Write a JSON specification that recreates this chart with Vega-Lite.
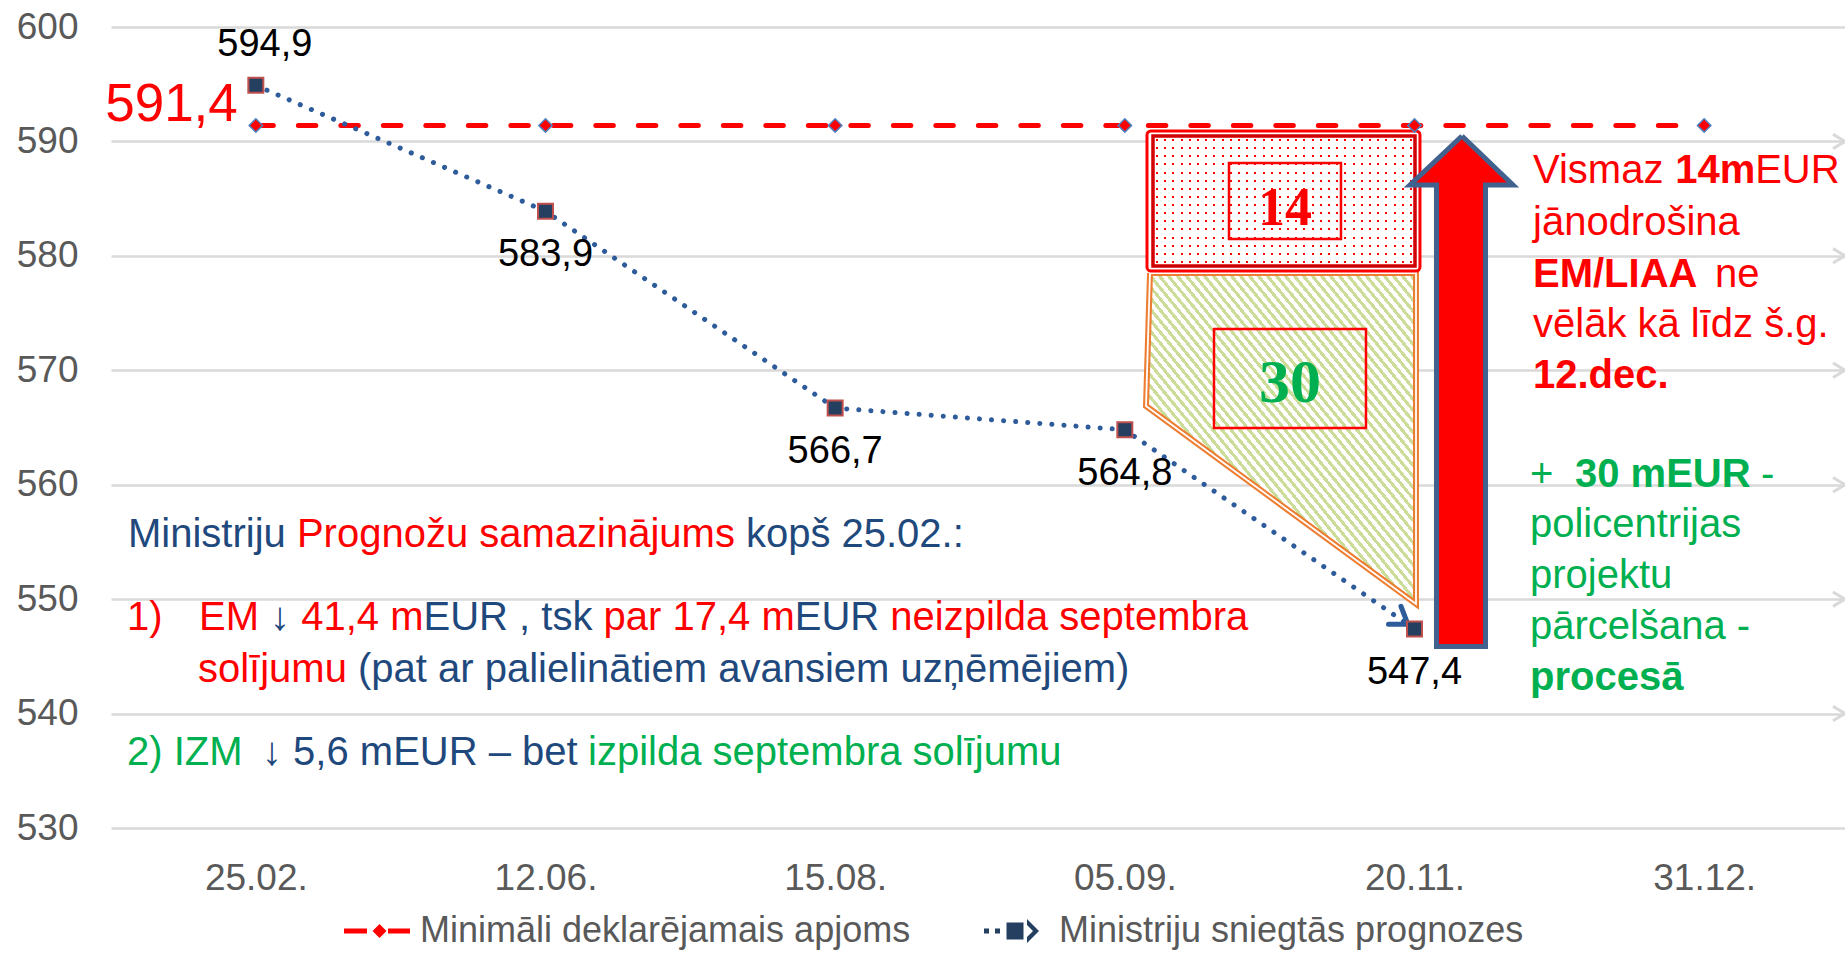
{
  "$schema": "https://vega.github.io/schema/vega-lite/v6.json",
  "width": 1738,
  "height": 801,
  "autosize": {"type": "none"},
  "padding": {"left": 111, "top": 27, "right": 0, "bottom": 125},
  "background": "white",
  "config": {
    "view": {"stroke": null},
    "locale": {"number": {"decimal": ",", "thousands": " ", "grouping": [3], "currency": ["", " €"]}}
  },
  "datasets": {
    "series": [
      {"d": "25.02.", "i": 0, "s": "Minimāli deklarējamais apjoms", "v": 591.4},
      {"d": "12.06.", "i": 1, "s": "Minimāli deklarējamais apjoms", "v": 591.4},
      {"d": "15.08.", "i": 2, "s": "Minimāli deklarējamais apjoms", "v": 591.4},
      {"d": "05.09.", "i": 3, "s": "Minimāli deklarējamais apjoms", "v": 591.4},
      {"d": "20.11.", "i": 4, "s": "Minimāli deklarējamais apjoms", "v": 591.4},
      {"d": "31.12.", "i": 5, "s": "Minimāli deklarējamais apjoms", "v": 591.4},
      {"d": "25.02.", "i": 0, "s": "Ministriju sniegtās prognozes", "v": 594.9},
      {"d": "12.06.", "i": 1, "s": "Ministriju sniegtās prognozes", "v": 583.9},
      {"d": "15.08.", "i": 2, "s": "Ministriju sniegtās prognozes", "v": 566.7},
      {"d": "05.09.", "i": 3, "s": "Ministriju sniegtās prognozes", "v": 564.8},
      {"d": "20.11.", "i": 4, "s": "Ministriju sniegtās prognozes", "v": 547.4}
    ],
    "pentagon": [
      {"o": 1, "x": 3.0869, "y": 578.5},
      {"o": 2, "x": 4.0052, "y": 578.5},
      {"o": 3, "x": 4.0052, "y": 549.58},
      {"o": 4, "x": 3.0731, "y": 566.88},
      {"o": 5, "x": 3.0869, "y": 578.5}
    ],
    "arrow": [
      {"o": 1, "x": 4.1639, "y": 590.47},
      {"o": 2, "x": 4.34, "y": 586.19},
      {"o": 3, "x": 4.2451, "y": 586.19},
      {"o": 4, "x": 4.2451, "y": 545.86},
      {"o": 5, "x": 4.0759, "y": 545.86},
      {"o": 6, "x": 4.0759, "y": 586.19},
      {"o": 7, "x": 3.9844, "y": 586.19},
      {"o": 8, "x": 4.1639, "y": 590.47}
    ],
    "grid": [{"g": 540}, {"g": 550}, {"g": 560}, {"g": 570}, {"g": 580}, {"g": 590}]
  },
  "layer": [
    {
      "data": {"name": "pentagon"},
      "layer": [
        {"mark": {"type": "line", "stroke": "#ED7D31", "strokeWidth": 6, "strokeJoin": "miter",
                  "fill": {"gradient": "linear", "x1": 0, "y1": 1, "x2": 1, "y2": 0, "stops": [
{"offset":0,"color":"#cd9"},{"offset":0.0075,"color":"#cd9"},{"offset":0.0075,"color":"#fff"},{"offset":0.0167,"color":"#fff"},
{"offset":0.0167,"color":"#cd9"},{"offset":0.0242,"color":"#cd9"},{"offset":0.0242,"color":"#fff"},{"offset":0.0333,"color":"#fff"},
{"offset":0.0333,"color":"#cd9"},{"offset":0.0408,"color":"#cd9"},{"offset":0.0408,"color":"#fff"},{"offset":0.05,"color":"#fff"},
{"offset":0.05,"color":"#cd9"},{"offset":0.0575,"color":"#cd9"},{"offset":0.0575,"color":"#fff"},{"offset":0.0667,"color":"#fff"},
{"offset":0.0667,"color":"#cd9"},{"offset":0.0742,"color":"#cd9"},{"offset":0.0742,"color":"#fff"},{"offset":0.0833,"color":"#fff"},
{"offset":0.0833,"color":"#cd9"},{"offset":0.0908,"color":"#cd9"},{"offset":0.0908,"color":"#fff"},{"offset":0.1,"color":"#fff"},
{"offset":0.1,"color":"#cd9"},{"offset":0.1075,"color":"#cd9"},{"offset":0.1075,"color":"#fff"},{"offset":0.1167,"color":"#fff"},
{"offset":0.1167,"color":"#cd9"},{"offset":0.1242,"color":"#cd9"},{"offset":0.1242,"color":"#fff"},{"offset":0.1333,"color":"#fff"},
{"offset":0.1333,"color":"#cd9"},{"offset":0.1408,"color":"#cd9"},{"offset":0.1408,"color":"#fff"},{"offset":0.15,"color":"#fff"},
{"offset":0.15,"color":"#cd9"},{"offset":0.1575,"color":"#cd9"},{"offset":0.1575,"color":"#fff"},{"offset":0.1667,"color":"#fff"},
{"offset":0.1667,"color":"#cd9"},{"offset":0.1742,"color":"#cd9"},{"offset":0.1742,"color":"#fff"},{"offset":0.1833,"color":"#fff"},
{"offset":0.1833,"color":"#cd9"},{"offset":0.1908,"color":"#cd9"},{"offset":0.1908,"color":"#fff"},{"offset":0.2,"color":"#fff"},
{"offset":0.2,"color":"#cd9"},{"offset":0.2075,"color":"#cd9"},{"offset":0.2075,"color":"#fff"},{"offset":0.2167,"color":"#fff"},
{"offset":0.2167,"color":"#cd9"},{"offset":0.2242,"color":"#cd9"},{"offset":0.2242,"color":"#fff"},{"offset":0.2333,"color":"#fff"},
{"offset":0.2333,"color":"#cd9"},{"offset":0.2408,"color":"#cd9"},{"offset":0.2408,"color":"#fff"},{"offset":0.25,"color":"#fff"},
{"offset":0.25,"color":"#cd9"},{"offset":0.2575,"color":"#cd9"},{"offset":0.2575,"color":"#fff"},{"offset":0.2667,"color":"#fff"},
{"offset":0.2667,"color":"#cd9"},{"offset":0.2742,"color":"#cd9"},{"offset":0.2742,"color":"#fff"},{"offset":0.2833,"color":"#fff"},
{"offset":0.2833,"color":"#cd9"},{"offset":0.2908,"color":"#cd9"},{"offset":0.2908,"color":"#fff"},{"offset":0.3,"color":"#fff"},
{"offset":0.3,"color":"#cd9"},{"offset":0.3075,"color":"#cd9"},{"offset":0.3075,"color":"#fff"},{"offset":0.3167,"color":"#fff"},
{"offset":0.3167,"color":"#cd9"},{"offset":0.3242,"color":"#cd9"},{"offset":0.3242,"color":"#fff"},{"offset":0.3333,"color":"#fff"},
{"offset":0.3333,"color":"#cd9"},{"offset":0.3408,"color":"#cd9"},{"offset":0.3408,"color":"#fff"},{"offset":0.35,"color":"#fff"},
{"offset":0.35,"color":"#cd9"},{"offset":0.3575,"color":"#cd9"},{"offset":0.3575,"color":"#fff"},{"offset":0.3667,"color":"#fff"},
{"offset":0.3667,"color":"#cd9"},{"offset":0.3742,"color":"#cd9"},{"offset":0.3742,"color":"#fff"},{"offset":0.3833,"color":"#fff"},
{"offset":0.3833,"color":"#cd9"},{"offset":0.3908,"color":"#cd9"},{"offset":0.3908,"color":"#fff"},{"offset":0.4,"color":"#fff"},
{"offset":0.4,"color":"#cd9"},{"offset":0.4075,"color":"#cd9"},{"offset":0.4075,"color":"#fff"},{"offset":0.4167,"color":"#fff"},
{"offset":0.4167,"color":"#cd9"},{"offset":0.4242,"color":"#cd9"},{"offset":0.4242,"color":"#fff"},{"offset":0.4333,"color":"#fff"},
{"offset":0.4333,"color":"#cd9"},{"offset":0.4408,"color":"#cd9"},{"offset":0.4408,"color":"#fff"},{"offset":0.45,"color":"#fff"},
{"offset":0.45,"color":"#cd9"},{"offset":0.4575,"color":"#cd9"},{"offset":0.4575,"color":"#fff"},{"offset":0.4667,"color":"#fff"},
{"offset":0.4667,"color":"#cd9"},{"offset":0.4742,"color":"#cd9"},{"offset":0.4742,"color":"#fff"},{"offset":0.4833,"color":"#fff"},
{"offset":0.4833,"color":"#cd9"},{"offset":0.4908,"color":"#cd9"},{"offset":0.4908,"color":"#fff"},{"offset":0.5,"color":"#fff"},
{"offset":0.5,"color":"#cd9"},{"offset":0.5075,"color":"#cd9"},{"offset":0.5075,"color":"#fff"},{"offset":0.5167,"color":"#fff"},
{"offset":0.5167,"color":"#cd9"},{"offset":0.5242,"color":"#cd9"},{"offset":0.5242,"color":"#fff"},{"offset":0.5333,"color":"#fff"},
{"offset":0.5333,"color":"#cd9"},{"offset":0.5408,"color":"#cd9"},{"offset":0.5408,"color":"#fff"},{"offset":0.55,"color":"#fff"},
{"offset":0.55,"color":"#cd9"},{"offset":0.5575,"color":"#cd9"},{"offset":0.5575,"color":"#fff"},{"offset":0.5667,"color":"#fff"},
{"offset":0.5667,"color":"#cd9"},{"offset":0.5742,"color":"#cd9"},{"offset":0.5742,"color":"#fff"},{"offset":0.5833,"color":"#fff"},
{"offset":0.5833,"color":"#cd9"},{"offset":0.5908,"color":"#cd9"},{"offset":0.5908,"color":"#fff"},{"offset":0.6,"color":"#fff"},
{"offset":0.6,"color":"#cd9"},{"offset":0.6075,"color":"#cd9"},{"offset":0.6075,"color":"#fff"},{"offset":0.6167,"color":"#fff"},
{"offset":0.6167,"color":"#cd9"},{"offset":0.6242,"color":"#cd9"},{"offset":0.6242,"color":"#fff"},{"offset":0.6333,"color":"#fff"},
{"offset":0.6333,"color":"#cd9"},{"offset":0.6408,"color":"#cd9"},{"offset":0.6408,"color":"#fff"},{"offset":0.65,"color":"#fff"},
{"offset":0.65,"color":"#cd9"},{"offset":0.6575,"color":"#cd9"},{"offset":0.6575,"color":"#fff"},{"offset":0.6667,"color":"#fff"},
{"offset":0.6667,"color":"#cd9"},{"offset":0.6742,"color":"#cd9"},{"offset":0.6742,"color":"#fff"},{"offset":0.6833,"color":"#fff"},
{"offset":0.6833,"color":"#cd9"},{"offset":0.6908,"color":"#cd9"},{"offset":0.6908,"color":"#fff"},{"offset":0.7,"color":"#fff"},
{"offset":0.7,"color":"#cd9"},{"offset":0.7075,"color":"#cd9"},{"offset":0.7075,"color":"#fff"},{"offset":0.7167,"color":"#fff"},
{"offset":0.7167,"color":"#cd9"},{"offset":0.7242,"color":"#cd9"},{"offset":0.7242,"color":"#fff"},{"offset":0.7333,"color":"#fff"},
{"offset":0.7333,"color":"#cd9"},{"offset":0.7408,"color":"#cd9"},{"offset":0.7408,"color":"#fff"},{"offset":0.75,"color":"#fff"},
{"offset":0.75,"color":"#cd9"},{"offset":0.7575,"color":"#cd9"},{"offset":0.7575,"color":"#fff"},{"offset":0.7667,"color":"#fff"},
{"offset":0.7667,"color":"#cd9"},{"offset":0.7742,"color":"#cd9"},{"offset":0.7742,"color":"#fff"},{"offset":0.7833,"color":"#fff"},
{"offset":0.7833,"color":"#cd9"},{"offset":0.7908,"color":"#cd9"},{"offset":0.7908,"color":"#fff"},{"offset":0.8,"color":"#fff"},
{"offset":0.8,"color":"#cd9"},{"offset":0.8075,"color":"#cd9"},{"offset":0.8075,"color":"#fff"},{"offset":0.8167,"color":"#fff"},
{"offset":0.8167,"color":"#cd9"},{"offset":0.8242,"color":"#cd9"},{"offset":0.8242,"color":"#fff"},{"offset":0.8333,"color":"#fff"},
{"offset":0.8333,"color":"#cd9"},{"offset":0.8408,"color":"#cd9"},{"offset":0.8408,"color":"#fff"},{"offset":0.85,"color":"#fff"},
{"offset":0.85,"color":"#cd9"},{"offset":0.8575,"color":"#cd9"},{"offset":0.8575,"color":"#fff"},{"offset":0.8667,"color":"#fff"},
{"offset":0.8667,"color":"#cd9"},{"offset":0.8742,"color":"#cd9"},{"offset":0.8742,"color":"#fff"},{"offset":0.8833,"color":"#fff"},
{"offset":0.8833,"color":"#cd9"},{"offset":0.8908,"color":"#cd9"},{"offset":0.8908,"color":"#fff"},{"offset":0.9,"color":"#fff"},
{"offset":0.9,"color":"#cd9"},{"offset":0.9075,"color":"#cd9"},{"offset":0.9075,"color":"#fff"},{"offset":0.9167,"color":"#fff"},
{"offset":0.9167,"color":"#cd9"},{"offset":0.9242,"color":"#cd9"},{"offset":0.9242,"color":"#fff"},{"offset":0.9333,"color":"#fff"},
{"offset":0.9333,"color":"#cd9"},{"offset":0.9408,"color":"#cd9"},{"offset":0.9408,"color":"#fff"},{"offset":0.95,"color":"#fff"},
{"offset":0.95,"color":"#cd9"},{"offset":0.9575,"color":"#cd9"},{"offset":0.9575,"color":"#fff"},{"offset":0.9667,"color":"#fff"},
{"offset":0.9667,"color":"#cd9"},{"offset":0.9742,"color":"#cd9"},{"offset":0.9742,"color":"#fff"},{"offset":0.9833,"color":"#fff"},
{"offset":0.9833,"color":"#cd9"},{"offset":0.9908,"color":"#cd9"},{"offset":0.9908,"color":"#fff"},{"offset":1,"color":"#fff"}
                  ]}},
         "encoding": {"x": {"field": "x", "type": "quantitative"}, "y": {"field": "y", "type": "quantitative"}, "order": {"field": "o"}}},
        {"mark": {"type": "line", "stroke": "white", "strokeWidth": 1.8, "strokeJoin": "miter"},
         "encoding": {"x": {"field": "x", "type": "quantitative"}, "y": {"field": "y", "type": "quantitative"}, "order": {"field": "o"}}}
      ]
    },
    {
      "data": {"values": [{}]},
      "layer": [
        {"mark": {"type": "rect", "fill": "#FFFFFF", "stroke": "#FF0000", "strokeWidth": 3, "cornerRadius": 4},
         "encoding": {"x": {"datum": 3.0765, "type": "quantitative"}, "x2": {"datum": 4.0189}, "y": {"datum": 590.911, "type": "quantitative"}, "y2": {"datum": 578.677}}},
        {"mark": {"type": "rect", "strokeWidth": 0,
                  "fill": {"gradient": "linear", "x1": 0, "y1": 0, "x2": 1, "y2": 0, "stops": [
{"offset":0,"color":"#fff"},
{"offset":0.0117,"color":"#fff"},{"offset":0.0117,"color":"#f00"},{"offset":0.0195,"color":"#f00"},{"offset":0.0195,"color":"#fff"},
{"offset":0.0430,"color":"#fff"},{"offset":0.0430,"color":"#f00"},{"offset":0.0508,"color":"#f00"},{"offset":0.0508,"color":"#fff"},
{"offset":0.0742,"color":"#fff"},{"offset":0.0742,"color":"#f00"},{"offset":0.0820,"color":"#f00"},{"offset":0.0820,"color":"#fff"},
{"offset":0.1055,"color":"#fff"},{"offset":0.1055,"color":"#f00"},{"offset":0.1133,"color":"#f00"},{"offset":0.1133,"color":"#fff"},
{"offset":0.1367,"color":"#fff"},{"offset":0.1367,"color":"#f00"},{"offset":0.1445,"color":"#f00"},{"offset":0.1445,"color":"#fff"},
{"offset":0.1680,"color":"#fff"},{"offset":0.1680,"color":"#f00"},{"offset":0.1758,"color":"#f00"},{"offset":0.1758,"color":"#fff"},
{"offset":0.1992,"color":"#fff"},{"offset":0.1992,"color":"#f00"},{"offset":0.2070,"color":"#f00"},{"offset":0.2070,"color":"#fff"},
{"offset":0.2305,"color":"#fff"},{"offset":0.2305,"color":"#f00"},{"offset":0.2383,"color":"#f00"},{"offset":0.2383,"color":"#fff"},
{"offset":0.2617,"color":"#fff"},{"offset":0.2617,"color":"#f00"},{"offset":0.2695,"color":"#f00"},{"offset":0.2695,"color":"#fff"},
{"offset":0.2930,"color":"#fff"},{"offset":0.2930,"color":"#f00"},{"offset":0.3008,"color":"#f00"},{"offset":0.3008,"color":"#fff"},
{"offset":0.3242,"color":"#fff"},{"offset":0.3242,"color":"#f00"},{"offset":0.3320,"color":"#f00"},{"offset":0.3320,"color":"#fff"},
{"offset":0.3555,"color":"#fff"},{"offset":0.3555,"color":"#f00"},{"offset":0.3633,"color":"#f00"},{"offset":0.3633,"color":"#fff"},
{"offset":0.3867,"color":"#fff"},{"offset":0.3867,"color":"#f00"},{"offset":0.3945,"color":"#f00"},{"offset":0.3945,"color":"#fff"},
{"offset":0.4180,"color":"#fff"},{"offset":0.4180,"color":"#f00"},{"offset":0.4258,"color":"#f00"},{"offset":0.4258,"color":"#fff"},
{"offset":0.4492,"color":"#fff"},{"offset":0.4492,"color":"#f00"},{"offset":0.4570,"color":"#f00"},{"offset":0.4570,"color":"#fff"},
{"offset":0.4805,"color":"#fff"},{"offset":0.4805,"color":"#f00"},{"offset":0.4883,"color":"#f00"},{"offset":0.4883,"color":"#fff"},
{"offset":0.5117,"color":"#fff"},{"offset":0.5117,"color":"#f00"},{"offset":0.5195,"color":"#f00"},{"offset":0.5195,"color":"#fff"},
{"offset":0.5430,"color":"#fff"},{"offset":0.5430,"color":"#f00"},{"offset":0.5508,"color":"#f00"},{"offset":0.5508,"color":"#fff"},
{"offset":0.5742,"color":"#fff"},{"offset":0.5742,"color":"#f00"},{"offset":0.5820,"color":"#f00"},{"offset":0.5820,"color":"#fff"},
{"offset":0.6055,"color":"#fff"},{"offset":0.6055,"color":"#f00"},{"offset":0.6133,"color":"#f00"},{"offset":0.6133,"color":"#fff"},
{"offset":0.6367,"color":"#fff"},{"offset":0.6367,"color":"#f00"},{"offset":0.6445,"color":"#f00"},{"offset":0.6445,"color":"#fff"},
{"offset":0.6680,"color":"#fff"},{"offset":0.6680,"color":"#f00"},{"offset":0.6758,"color":"#f00"},{"offset":0.6758,"color":"#fff"},
{"offset":0.6992,"color":"#fff"},{"offset":0.6992,"color":"#f00"},{"offset":0.7070,"color":"#f00"},{"offset":0.7070,"color":"#fff"},
{"offset":0.7305,"color":"#fff"},{"offset":0.7305,"color":"#f00"},{"offset":0.7383,"color":"#f00"},{"offset":0.7383,"color":"#fff"},
{"offset":0.7617,"color":"#fff"},{"offset":0.7617,"color":"#f00"},{"offset":0.7695,"color":"#f00"},{"offset":0.7695,"color":"#fff"},
{"offset":0.7930,"color":"#fff"},{"offset":0.7930,"color":"#f00"},{"offset":0.8008,"color":"#f00"},{"offset":0.8008,"color":"#fff"},
{"offset":0.8242,"color":"#fff"},{"offset":0.8242,"color":"#f00"},{"offset":0.8320,"color":"#f00"},{"offset":0.8320,"color":"#fff"},
{"offset":0.8555,"color":"#fff"},{"offset":0.8555,"color":"#f00"},{"offset":0.8633,"color":"#f00"},{"offset":0.8633,"color":"#fff"},
{"offset":0.8867,"color":"#fff"},{"offset":0.8867,"color":"#f00"},{"offset":0.8945,"color":"#f00"},{"offset":0.8945,"color":"#fff"},
{"offset":0.9180,"color":"#fff"},{"offset":0.9180,"color":"#f00"},{"offset":0.9258,"color":"#f00"},{"offset":0.9258,"color":"#fff"},
{"offset":0.9492,"color":"#fff"},{"offset":0.9492,"color":"#f00"},{"offset":0.9570,"color":"#f00"},{"offset":0.9570,"color":"#fff"},
{"offset":0.9805,"color":"#fff"},{"offset":0.9805,"color":"#f00"},{"offset":0.9883,"color":"#f00"},{"offset":0.9883,"color":"#fff"},
{"offset":1,"color":"#fff"}
                  ]}},
         "encoding": {"x": {"datum": 3.0972, "type": "quantitative"}, "x2": {"datum": 4.0017}, "y": {"datum": 590.474, "type": "quantitative"}, "y2": {"datum": 579.114}}},
        {"mark": {"type": "rect", "strokeWidth": 0,
                  "fill": {"gradient": "linear", "x1": 0, "y1": 0, "x2": 0, "y2": 1, "stops": [
{"offset":0,"color":"#fff"},
{"offset":0.0234,"color":"#fff"},{"offset":0.0234,"color":"rgba(255,255,255,0)"},{"offset":0.0390,"color":"rgba(255,255,255,0)"},{"offset":0.0390,"color":"#fff"},
{"offset":0.0859,"color":"#fff"},{"offset":0.0859,"color":"rgba(255,255,255,0)"},{"offset":0.1015,"color":"rgba(255,255,255,0)"},{"offset":0.1015,"color":"#fff"},
{"offset":0.1484,"color":"#fff"},{"offset":0.1484,"color":"rgba(255,255,255,0)"},{"offset":0.1640,"color":"rgba(255,255,255,0)"},{"offset":0.1640,"color":"#fff"},
{"offset":0.2109,"color":"#fff"},{"offset":0.2109,"color":"rgba(255,255,255,0)"},{"offset":0.2265,"color":"rgba(255,255,255,0)"},{"offset":0.2265,"color":"#fff"},
{"offset":0.2734,"color":"#fff"},{"offset":0.2734,"color":"rgba(255,255,255,0)"},{"offset":0.2890,"color":"rgba(255,255,255,0)"},{"offset":0.2890,"color":"#fff"},
{"offset":0.3359,"color":"#fff"},{"offset":0.3359,"color":"rgba(255,255,255,0)"},{"offset":0.3515,"color":"rgba(255,255,255,0)"},{"offset":0.3515,"color":"#fff"},
{"offset":0.3984,"color":"#fff"},{"offset":0.3984,"color":"rgba(255,255,255,0)"},{"offset":0.4140,"color":"rgba(255,255,255,0)"},{"offset":0.4140,"color":"#fff"},
{"offset":0.4609,"color":"#fff"},{"offset":0.4609,"color":"rgba(255,255,255,0)"},{"offset":0.4765,"color":"rgba(255,255,255,0)"},{"offset":0.4765,"color":"#fff"},
{"offset":0.5234,"color":"#fff"},{"offset":0.5234,"color":"rgba(255,255,255,0)"},{"offset":0.5390,"color":"rgba(255,255,255,0)"},{"offset":0.5390,"color":"#fff"},
{"offset":0.5859,"color":"#fff"},{"offset":0.5859,"color":"rgba(255,255,255,0)"},{"offset":0.6015,"color":"rgba(255,255,255,0)"},{"offset":0.6015,"color":"#fff"},
{"offset":0.6484,"color":"#fff"},{"offset":0.6484,"color":"rgba(255,255,255,0)"},{"offset":0.6640,"color":"rgba(255,255,255,0)"},{"offset":0.6640,"color":"#fff"},
{"offset":0.7109,"color":"#fff"},{"offset":0.7109,"color":"rgba(255,255,255,0)"},{"offset":0.7265,"color":"rgba(255,255,255,0)"},{"offset":0.7265,"color":"#fff"},
{"offset":0.7734,"color":"#fff"},{"offset":0.7734,"color":"rgba(255,255,255,0)"},{"offset":0.7890,"color":"rgba(255,255,255,0)"},{"offset":0.7890,"color":"#fff"},
{"offset":0.8359,"color":"#fff"},{"offset":0.8359,"color":"rgba(255,255,255,0)"},{"offset":0.8515,"color":"rgba(255,255,255,0)"},{"offset":0.8515,"color":"#fff"},
{"offset":0.8984,"color":"#fff"},{"offset":0.8984,"color":"rgba(255,255,255,0)"},{"offset":0.9140,"color":"rgba(255,255,255,0)"},{"offset":0.9140,"color":"#fff"},
{"offset":0.9609,"color":"#fff"},{"offset":0.9609,"color":"rgba(255,255,255,0)"},{"offset":0.9765,"color":"rgba(255,255,255,0)"},{"offset":0.9765,"color":"#fff"},
{"offset":1,"color":"#fff"}
                  ]}},
         "encoding": {"x": {"datum": 3.0972, "type": "quantitative"}, "x2": {"datum": 4.0017}, "y": {"datum": 590.474, "type": "quantitative"}, "y2": {"datum": 579.114}}},
        {"mark": {"type": "rect", "fill": "transparent", "stroke": "#D00000", "strokeWidth": 3.5},
         "encoding": {"x": {"datum": 3.0972, "type": "quantitative"}, "x2": {"datum": 4.0017}, "y": {"datum": 590.474, "type": "quantitative"}, "y2": {"datum": 579.114}}},
        {"mark": {"type": "rect", "fill": "transparent", "stroke": "#FF0000", "strokeWidth": 2.5},
         "encoding": {"x": {"datum": 3.3596, "type": "quantitative"}, "x2": {"datum": 3.7462}, "y": {"datum": 588.115, "type": "quantitative"}, "y2": {"datum": 581.473}}},
        {"mark": {"type": "rect", "fill": "transparent", "stroke": "#FF0000", "strokeWidth": 2.5},
         "encoding": {"x": {"datum": 3.3078, "type": "quantitative"}, "x2": {"datum": 3.8325}, "y": {"datum": 573.608, "type": "quantitative"}, "y2": {"datum": 564.957}}}
      ]
    },
    {
      "data": {"name": "arrow"},
      "mark": {"type": "line", "fill": "#FF0000", "stroke": "#41618F", "strokeWidth": 5, "strokeJoin": "miter"},
      "encoding": {"x": {"field": "x", "type": "quantitative"}, "y": {"field": "y", "type": "quantitative"}, "order": {"field": "o"}}
    },
    {
      "data": {"name": "grid"},
      "mark": {"type": "point", "shape": "M-1,-0.6L0,0L-1,0.6", "filled": false, "stroke": "#D9D9D9", "strokeWidth": 3, "size": 576, "opacity": 1},
      "encoding": {"x": {"datum": 5.4862, "type": "quantitative"}, "y": {"field": "g", "type": "quantitative"}}
    },
    {
      "data": {"name": "series"},
      "layer": [
        {
          "transform": [{"filter": "datum.s === 'Minimāli deklarējamais apjoms'"}],
          "mark": {"type": "line", "stroke": "#FF0000", "strokeWidth": 5, "strokeDash": [17.5, 25], "strokeCap": "round"},
          "encoding": {
            "x": {"field": "i", "type": "quantitative", "scale": {"domain": [-0.5, 5.5], "nice": false, "zero": false},
                  "axis": {"values": [0, 1, 2, 3, 4, 5], "title": null, "grid": false, "domain": false, "ticks": false,
                           "labelExpr": "['25.02.','12.06.','15.08.','05.09.','20.11.','31.12.'][datum.value]",
                           "labelFont": "Liberation Sans", "labelFontSize": 37, "labelColor": "#595959", "labelPadding": 32}},
            "y": {"field": "v", "type": "quantitative", "scale": {"domain": [530, 600], "nice": false, "zero": false},
                  "axis": {"values": [530, 540, 550, 560, 570, 580, 590, 600], "title": null, "grid": true, "gridColor": "#D9D9D9", "gridWidth": 2.5,
                           "domain": false, "ticks": false, "labelFont": "Liberation Sans", "labelFontSize": 37, "labelColor": "#595959", "labelPadding": 33}}
          }
        },
        {
          "mark": {"type": "point", "filled": true, "opacity": 0, "size": 10},
          "encoding": {
            "x": {"field": "i", "type": "quantitative"},
            "y": {"field": "v", "type": "quantitative"},
            "color": {"field": "s", "type": "nominal",
                      "scale": {"domain": ["Minimāli deklarējamais apjoms", "Ministriju sniegtās prognozes"], "range": ["#FF0000", "#243F60"]},
                      "legend": {"orient": "none", "legendX": 225, "legendY": 886, "direction": "horizontal", "title": null, "labelFont": "Liberation Sans", "labelFontSize": 36,
                                 "labelColor": "#595959", "labelLimit": 800, "symbolSize": 400, "symbolOpacity": 1, "symbolStrokeWidth": 0,
                                 "labelOffset": 48, "columnPadding": 64}},
            "shape": {"field": "s", "type": "nominal",
                      "scale": {"domain": ["Minimāli deklarējamais apjoms", "Ministriju sniegtās prognozes"],
                                "range": ["M-1,-0.25L1.3,-0.25L1.3,0.25L-1,0.25Z M1.85,0L2.55,-0.7L3.25,0L2.55,0.7Z M3.4,-0.25L5.6,-0.25L5.6,0.25L3.4,0.25Z",
                                          "M-0.9,-0.25L-0.4,-0.25L-0.4,0.25L-0.9,0.25Z M0.2,-0.25L0.7,-0.25L0.7,0.25L0.2,0.25Z M1.35,-0.85L3.05,-0.85L3.05,0.85L1.35,0.85Z M3.4,-1.2L4.6,0L3.4,1.2L3.4,0.6L4.0,0L3.4,-0.6Z"]},
                      "legend": {"orient": "none", "legendX": 225, "legendY": 886, "direction": "horizontal", "title": null, "labelFont": "Liberation Sans", "labelFontSize": 36,
                                 "labelColor": "#595959", "labelLimit": 800, "symbolSize": 400, "symbolOpacity": 1, "symbolStrokeWidth": 0,
                                 "labelOffset": 48, "columnPadding": 64}}
          }
        },
        {
          "transform": [{"filter": "datum.s === 'Minimāli deklarējamais apjoms'"}],
          "mark": {"type": "point", "shape": "diamond", "filled": true, "fill": "#FF0000", "stroke": "#4F81BD", "strokeWidth": 1.5, "size": 180, "opacity": 1},
          "encoding": {"x": {"field": "i", "type": "quantitative"}, "y": {"field": "v", "type": "quantitative"}}
        },
        {
          "transform": [{"filter": "datum.s === 'Ministriju sniegtās prognozes'"}],
          "mark": {"type": "line", "stroke": "#2E5C9A", "strokeWidth": 5, "strokeDash": [0.1, 12], "strokeCap": "round"},
          "encoding": {"x": {"field": "i", "type": "quantitative"}, "y": {"field": "v", "type": "quantitative"}}
        },
        {
          "transform": [{"filter": "datum.s === 'Ministriju sniegtās prognozes' && datum.i === 4"}],
          "mark": {"type": "point", "shape": "M-2.4,-1.1L-0.8,0L-2.4,1.1", "filled": false, "stroke": "#2E5C9A", "strokeWidth": 5, "strokeCap": "round", "strokeJoin": "round", "size": 400, "angle": 34.5, "opacity": 1},
          "encoding": {"x": {"field": "i", "type": "quantitative"}, "y": {"field": "v", "type": "quantitative"}}
        },
        {
          "transform": [{"filter": "datum.s === 'Ministriju sniegtās prognozes'"}],
          "mark": {"type": "point", "shape": "square", "filled": true, "fill": "#243F60", "stroke": "#C0504D", "strokeWidth": 2, "size": 225, "opacity": 1},
          "encoding": {"x": {"field": "i", "type": "quantitative"}, "y": {"field": "v", "type": "quantitative"}}
        },
        {
          "transform": [{"filter": "datum.s === 'Ministriju sniegtās prognozes' && datum.i === 0"}],
          "mark": {"type": "text", "font": "Liberation Sans", "fontSize": 38, "color": "#000000", "align": "center", "baseline": "alphabetic", "dx": 9, "dy": -29},
          "encoding": {"x": {"field": "i", "type": "quantitative"}, "y": {"field": "v", "type": "quantitative"}, "text": {"field": "v", "type": "quantitative", "format": ".1f"}}
        },
        {
          "transform": [{"filter": "datum.s === 'Ministriju sniegtās prognozes' && datum.i > 0"}],
          "mark": {"type": "text", "font": "Liberation Sans", "fontSize": 38, "color": "#000000", "align": "center", "baseline": "alphabetic", "dy": 55},
          "encoding": {"x": {"field": "i", "type": "quantitative"}, "y": {"field": "v", "type": "quantitative"}, "text": {"field": "v", "type": "quantitative", "format": ".1f"}}
        },
        {
          "transform": [{"filter": "datum.s === 'Minimāli deklarējamais apjoms' && datum.i === 0"}],
          "mark": {"type": "text", "font": "Liberation Sans", "fontSize": 53, "color": "#FF0000", "align": "right", "baseline": "alphabetic", "dx": -18, "dy": -4},
          "encoding": {"x": {"field": "i", "type": "quantitative"}, "y": {"field": "v", "type": "quantitative"}, "text": {"field": "v", "type": "quantitative", "format": ".1f"}}
        }
      ]
    },
    {
      "data": {"values": [{}]},
      "layer": [
        {"mark": {"type": "text", "text": "14", "font": "Liberation Serif", "fontWeight": "bold", "fontSize": 54, "color": "#FF0000", "align": "center", "baseline": "alphabetic"},
         "encoding": {"x": {"datum": 3.5529, "type": "quantitative"}, "y": {"datum": 582.697, "type": "quantitative"}}},
        {"mark": {"type": "text", "text": "30", "font": "Liberation Serif", "fontWeight": "bold", "fontSize": 62, "color": "#00B050", "align": "center", "baseline": "alphabetic"},
         "encoding": {"x": {"datum": 3.5702, "type": "quantitative"}, "y": {"datum": 567.229, "type": "quantitative"}}},

        {"mark": {"type": "text", "text": "Ministriju", "font": "Liberation Sans", "fontSize": 40, "color": "#1F497D", "align": "left", "baseline": "alphabetic"},
         "encoding": {"x": {"datum": -0.4413, "type": "quantitative"}, "y": {"datum": 554.557, "type": "quantitative"}}},
        {"mark": {"type": "text", "text": "Prognožu samazinājums", "font": "Liberation Sans", "fontSize": 40, "color": "#FF0000", "align": "left", "baseline": "alphabetic"},
         "encoding": {"x": {"datum": 0.1418, "type": "quantitative"}, "y": {"datum": 554.557, "type": "quantitative"}}},
        {"mark": {"type": "text", "text": "kopš 25.02.:", "font": "Liberation Sans", "fontSize": 40, "color": "#1F497D", "align": "left", "baseline": "alphabetic"},
         "encoding": {"x": {"datum": 1.6918, "type": "quantitative"}, "y": {"datum": 554.557, "type": "quantitative"}}},

        {"mark": {"type": "text", "text": "1)", "font": "Liberation Sans", "fontSize": 40, "color": "#FF0000", "align": "left", "baseline": "alphabetic"},
         "encoding": {"x": {"datum": -0.4448, "type": "quantitative"}, "y": {"datum": 547.304, "type": "quantitative"}}},
        {"mark": {"type": "text", "text": "EM", "font": "Liberation Sans", "fontSize": 40, "color": "#FF0000", "align": "left", "baseline": "alphabetic"},
         "encoding": {"x": {"datum": -0.1962, "type": "quantitative"}, "y": {"datum": 547.304, "type": "quantitative"}}},
        {"mark": {"type": "text", "text": "↓", "font": "Liberation Sans", "fontSize": 40, "color": "#1F497D", "align": "left", "baseline": "alphabetic"},
         "encoding": {"x": {"datum": 0.0493, "type": "quantitative"}, "y": {"datum": 547.304, "type": "quantitative"}}},
        {"mark": {"type": "text", "text": "41,4 m", "font": "Liberation Sans", "fontSize": 40, "color": "#FF0000", "align": "left", "baseline": "alphabetic"},
         "encoding": {"x": {"datum": 0.1566, "type": "quantitative"}, "y": {"datum": 547.304, "type": "quantitative"}}},
        {"mark": {"type": "text", "text": "EUR , tsk", "font": "Liberation Sans", "fontSize": 40, "color": "#1F497D", "align": "left", "baseline": "alphabetic"},
         "encoding": {"x": {"datum": 0.5788, "type": "quantitative"}, "y": {"datum": 547.304, "type": "quantitative"}}},
        {"mark": {"type": "text", "text": "par 17,4 m", "font": "Liberation Sans", "fontSize": 40, "color": "#FF0000", "align": "left", "baseline": "alphabetic"},
         "encoding": {"x": {"datum": 1.2002, "type": "quantitative"}, "y": {"datum": 547.304, "type": "quantitative"}}},
        {"mark": {"type": "text", "text": "EUR", "font": "Liberation Sans", "fontSize": 40, "color": "#1F497D", "align": "left", "baseline": "alphabetic"},
         "encoding": {"x": {"datum": 1.8603, "type": "quantitative"}, "y": {"datum": 547.304, "type": "quantitative"}}},
        {"mark": {"type": "text", "text": "neizpilda septembra", "font": "Liberation Sans", "fontSize": 40, "color": "#FF0000", "align": "left", "baseline": "alphabetic"},
         "encoding": {"x": {"datum": 2.1903, "type": "quantitative"}, "y": {"datum": 547.304, "type": "quantitative"}}},

        {"mark": {"type": "text", "text": "solījumu", "font": "Liberation Sans", "fontSize": 40, "color": "#FF0000", "align": "left", "baseline": "alphabetic"},
         "encoding": {"x": {"datum": -0.1997, "type": "quantitative"}, "y": {"datum": 542.76, "type": "quantitative"}}},
        {"mark": {"type": "text", "text": "(pat ar palielinātiem avansiem uzņēmējiem)", "font": "Liberation Sans", "fontSize": 40, "color": "#1F497D", "align": "left", "baseline": "alphabetic"},
         "encoding": {"x": {"datum": 0.3527, "type": "quantitative"}, "y": {"datum": 542.76, "type": "quantitative"}}},

        {"mark": {"type": "text", "text": "2) IZM", "font": "Liberation Sans", "fontSize": 40, "color": "#00B050", "align": "left", "baseline": "alphabetic"},
         "encoding": {"x": {"datum": -0.4448, "type": "quantitative"}, "y": {"datum": 535.506, "type": "quantitative"}}},
        {"mark": {"type": "text", "text": "↓ 5,6 mEUR – bet", "font": "Liberation Sans", "fontSize": 40, "color": "#1F497D", "align": "left", "baseline": "alphabetic"},
         "encoding": {"x": {"datum": 0.0213, "type": "quantitative"}, "y": {"datum": 535.506, "type": "quantitative"}}},
        {"mark": {"type": "text", "text": "izpilda septembra solījumu", "font": "Liberation Sans", "fontSize": 40, "color": "#00B050", "align": "left", "baseline": "alphabetic"},
         "encoding": {"x": {"datum": 1.1467, "type": "quantitative"}, "y": {"datum": 535.506, "type": "quantitative"}}},

        {"mark": {"type": "text", "text": "Vismaz", "font": "Liberation Sans", "fontSize": 40, "color": "#FF0000", "align": "left", "baseline": "alphabetic"},
         "encoding": {"x": {"datum": 4.4091, "type": "quantitative"}, "y": {"datum": 586.367, "type": "quantitative"}}},
        {"mark": {"type": "text", "text": "14m", "font": "Liberation Sans", "fontWeight": "bold", "fontSize": 40, "color": "#FF0000", "align": "left", "baseline": "alphabetic"},
         "encoding": {"x": {"datum": 4.8999, "type": "quantitative"}, "y": {"datum": 586.367, "type": "quantitative"}}},
        {"mark": {"type": "text", "text": "EUR", "font": "Liberation Sans", "fontSize": 40, "color": "#FF0000", "align": "left", "baseline": "alphabetic"},
         "encoding": {"x": {"datum": 5.1761, "type": "quantitative"}, "y": {"datum": 586.367, "type": "quantitative"}}},
        {"mark": {"type": "text", "text": "jānodrošina", "font": "Liberation Sans", "fontSize": 40, "color": "#FF0000", "align": "left", "baseline": "alphabetic"},
         "encoding": {"x": {"datum": 4.4091, "type": "quantitative"}, "y": {"datum": 581.823, "type": "quantitative"}}},
        {"mark": {"type": "text", "text": "EM/LIAA", "font": "Liberation Sans", "fontWeight": "bold", "fontSize": 40, "color": "#FF0000", "align": "left", "baseline": "alphabetic"},
         "encoding": {"x": {"datum": 4.4091, "type": "quantitative"}, "y": {"datum": 577.279, "type": "quantitative"}}},
        {"mark": {"type": "text", "text": "ne", "font": "Liberation Sans", "fontSize": 40, "color": "#FF0000", "align": "left", "baseline": "alphabetic"},
         "encoding": {"x": {"datum": 5.0373, "type": "quantitative"}, "y": {"datum": 577.279, "type": "quantitative"}}},
        {"mark": {"type": "text", "text": "vēlāk kā līdz š.g.", "font": "Liberation Sans", "fontSize": 40, "color": "#FF0000", "align": "left", "baseline": "alphabetic"},
         "encoding": {"x": {"datum": 4.4091, "type": "quantitative"}, "y": {"datum": 572.909, "type": "quantitative"}}},
        {"mark": {"type": "text", "text": "12.dec.", "font": "Liberation Sans", "fontWeight": "bold", "fontSize": 40, "color": "#FF0000", "align": "left", "baseline": "alphabetic"},
         "encoding": {"x": {"datum": 4.4091, "type": "quantitative"}, "y": {"datum": 568.452, "type": "quantitative"}}},

        {"mark": {"type": "text", "text": "+", "font": "Liberation Sans", "fontSize": 40, "color": "#00B050", "align": "left", "baseline": "alphabetic"},
         "encoding": {"x": {"datum": 4.3987, "type": "quantitative"}, "y": {"datum": 559.801, "type": "quantitative"}}},
        {"mark": {"type": "text", "text": "30 mEUR", "font": "Liberation Sans", "fontWeight": "bold", "fontSize": 40, "color": "#00B050", "align": "left", "baseline": "alphabetic"},
         "encoding": {"x": {"datum": 4.554, "type": "quantitative"}, "y": {"datum": 559.801, "type": "quantitative"}}},
        {"mark": {"type": "text", "text": "-", "font": "Liberation Sans", "fontSize": 40, "color": "#00B050", "align": "left", "baseline": "alphabetic"},
         "encoding": {"x": {"datum": 5.1961, "type": "quantitative"}, "y": {"datum": 559.801, "type": "quantitative"}}},
        {"mark": {"type": "text", "text": "policentrijas", "font": "Liberation Sans", "fontSize": 40, "color": "#00B050", "align": "left", "baseline": "alphabetic"},
         "encoding": {"x": {"datum": 4.3987, "type": "quantitative"}, "y": {"datum": 555.431, "type": "quantitative"}}},
        {"mark": {"type": "text", "text": "projektu", "font": "Liberation Sans", "fontSize": 40, "color": "#00B050", "align": "left", "baseline": "alphabetic"},
         "encoding": {"x": {"datum": 4.3987, "type": "quantitative"}, "y": {"datum": 550.974, "type": "quantitative"}}},
        {"mark": {"type": "text", "text": "pārcelšana -", "font": "Liberation Sans", "fontSize": 40, "color": "#00B050", "align": "left", "baseline": "alphabetic"},
         "encoding": {"x": {"datum": 4.3987, "type": "quantitative"}, "y": {"datum": 546.518, "type": "quantitative"}}},
        {"mark": {"type": "text", "text": "procesā", "font": "Liberation Sans", "fontWeight": "bold", "fontSize": 40, "color": "#00B050", "align": "left", "baseline": "alphabetic"},
         "encoding": {"x": {"datum": 4.3987, "type": "quantitative"}, "y": {"datum": 542.061, "type": "quantitative"}}}
      ]
    }
  ]
}
